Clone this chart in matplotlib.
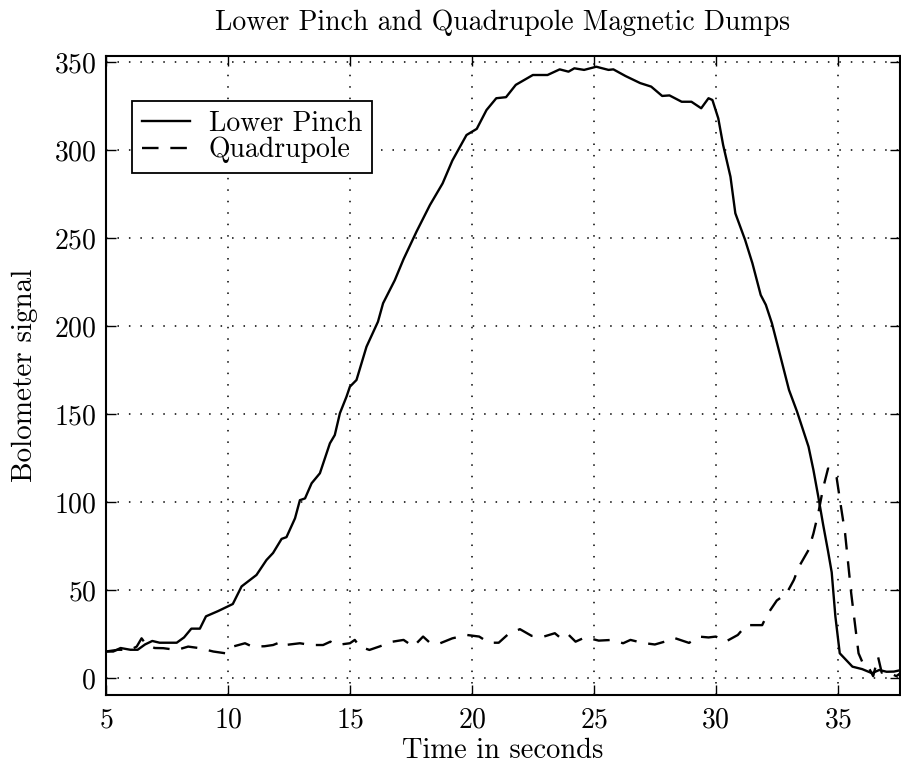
import matplotlib
matplotlib.use("Agg")
import matplotlib.pyplot as plt

plt.rcParams['font.family'] = 'serif'
plt.rcParams['font.serif'] = ['cmr10', 'DejaVu Serif']
plt.rcParams['axes.formatter.use_mathtext'] = True
plt.rcParams['mathtext.fontset'] = 'cm'

# Lower Pinch dump
t_pinch = [5.0, 5.3, 5.6, 6.0, 6.3, 6.6, 6.9, 7.2, 7.6, 7.9, 8.2, 8.5, 8.85, 9.1, 9.6,
           10.2, 10.56, 11.17, 11.58, 11.85, 12.2, 12.4, 12.75, 12.95, 13.16, 13.43,
           13.77, 14.18, 14.38, 14.59, 14.86, 15.0, 15.27, 15.68, 16.15, 16.36, 16.84,
           17.2, 17.73, 18.28, 18.8, 19.2, 19.78, 20.2, 20.6, 21.0, 21.4, 21.8, 22.5,
           23.1, 23.6, 23.96, 24.2, 24.6, 25.1, 25.6, 25.8, 26.3, 26.9, 27.35, 27.8,
           28.1, 28.6, 29.0, 29.4, 29.7, 29.86, 30.1, 30.3, 30.6, 30.8, 31.2, 31.5,
           31.84, 32.05, 32.3, 32.65, 33.0, 33.33, 33.8, 34.0, 34.2, 34.4, 34.6, 34.75,
           34.9, 35.08, 35.6, 36.0, 36.4, 36.7, 37.0, 37.3, 37.6]
pinch = [15, 15, 17, 16, 16, 19, 21, 20, 20, 20, 23, 28, 28, 35, 38,
         42, 52, 58.5, 67, 71, 79, 80, 90.7, 101, 102, 110.6,
         116.3, 133.3, 138, 150.4, 159.8, 165.5, 169.3, 188.2, 202.4, 212.9, 226,
         238, 253.6, 268.7, 281, 294, 308.5, 312, 322.7, 329.4, 330, 337, 342.6,
         342.6, 345.8, 344.5, 346.4, 345.5, 347.3, 345.5, 345.8, 342, 338, 336, 330.7,
         331, 327.4, 327.4, 323.7, 329.4, 328.4, 318, 302.8, 284.8, 264, 248.9, 235.6,
         217.6, 212, 201.5, 182.6, 163.6, 151.3, 131.4, 118.2, 103, 87, 72, 60,
         35, 14, 6.4, 5, 2.7, 4.5, 3.5, 3.6, 4.5]

# Quadrupole dump
t_quad = [5.0, 5.5, 6.0, 6.26, 6.46, 6.66, 7.0, 7.35, 7.9, 8.37, 8.85, 9.4, 9.9, 10.2,
          10.7, 11.0, 11.5, 11.85, 12.2, 12.35, 12.95, 13.4, 13.9, 14.2, 14.45, 15.0,
          15.2, 15.4, 15.8, 16.2, 16.75, 17.2, 17.6, 18.0, 18.3, 18.7, 19.2, 19.8,
          20.3, 20.7, 21.1, 21.5, 21.97, 22.45, 22.95, 23.4, 23.6, 23.9, 24.25, 24.65,
          25.2, 25.75, 26.2, 26.5, 27.0, 27.5, 27.9, 28.3, 28.9, 29.3, 29.7, 30.0,
          30.4, 30.9, 31.25, 31.9, 32.1, 32.5, 32.9, 33.2, 33.4, 33.8, 34.0, 34.2,
          34.4, 34.6, 34.8, 34.95, 35.1, 35.3, 35.55, 35.85, 36.1, 36.3, 36.45, 36.65,
          36.8, 37.1, 37.4, 37.6]
quad = [15, 16, 16, 17.8, 22.5, 18.7, 17, 16.9, 15.9, 17.8, 16.9, 15, 14, 17.8,
        19.7, 17.8, 18, 18.7, 20.6, 18.7, 19.7, 18.7, 18.7, 20.6, 18.7, 19.7,
        21.6, 17.8, 15.9, 17.8, 20.6, 21.6, 17.8, 23.5, 19.7, 19.7, 22.5, 24.4,
        23.5, 20, 20, 25, 27.7, 23.9, 23.5, 25.4, 23.1, 25.4, 20.6, 23.1,
        21.2, 21.6, 19.7, 21.6, 19.9, 19, 20.6, 22.7, 19.9, 23.5, 23, 23.5,
        20.6, 24.4, 30, 30, 35.8, 44, 48, 55.7, 63, 72.7, 82, 93.6,
        108, 119, 118, 114, 100, 82, 48, 14, 6, 5, 1, 12,
        3, 3, 1, 3]

fig = plt.figure(figsize=(9.01, 7.66), dpi=100)
ax = fig.add_axes([0.1176, 0.0927, 0.8813, 0.8342])

ax.plot(t_pinch, pinch, color='black', lw=1.7, label='Lower Pinch')
ax.plot(t_quad, quad, color='black', lw=1.7, linestyle=(0, (7, 5)), label='Quadrupole')

ax.set_xlim(5, 37.55)
ax.set_ylim(-9.7, 353.4)
ax.set_xticks(range(5, 40, 5))
ax.set_yticks(range(0, 351, 50))
ax.grid(True, color='black', linestyle=(0, (1, 6.5)), linewidth=1.1)
ax.tick_params(direction='in', length=7, width=1.0, top=True, right=True, labelsize=20)
ax.tick_params(axis='x', pad=9)
ax.tick_params(axis='y', pad=7)
for s in ax.spines.values():
    s.set_linewidth(1.5)

ax.set_title('Lower Pinch and Quadrupole Magnetic Dumps', fontsize=20, pad=19)
ax.set_xlabel('Time in seconds', fontsize=20.5, labelpad=3)
ax.set_ylabel('Bolometer signal', fontsize=21, labelpad=11)

leg = ax.legend(loc='upper left', bbox_to_anchor=(0.033, 0.93), fontsize=20,
                fancybox=False, framealpha=1, edgecolor='black', handlelength=1.75,
                handletextpad=0.65, borderpad=0.35, labelspacing=0.0, borderaxespad=0)
leg.get_frame().set_linewidth(1.3)

fig.savefig('out.png', dpi=100)
